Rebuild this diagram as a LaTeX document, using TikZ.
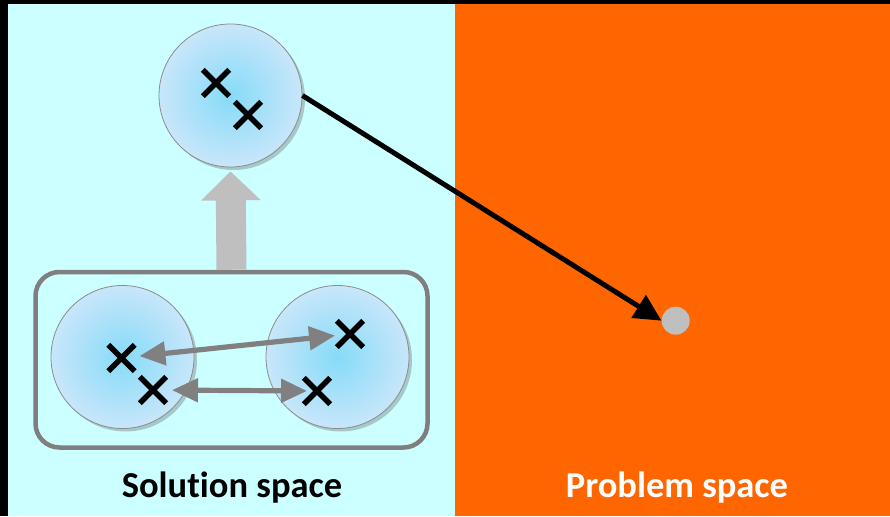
\documentclass[tikz,border=0pt]{standalone}
\usepackage{fontspec}
\setmainfont{Carlito}[Ligatures={NoCommon}]
\usetikzlibrary{arrows.meta,shapes.misc,shadows}
\definecolor{cyanbg}{HTML}{CCFFFF}
\definecolor{orangebg}{HTML}{FF6600}
\definecolor{innerblue}{HTML}{86DBF8}
\definecolor{outerblue}{HTML}{C8E6FA}
\definecolor{rimgray}{HTML}{8C8C8C}
\definecolor{arrowgray}{HTML}{808080}
\definecolor{biggray}{HTML}{BFBFBF}
\definecolor{boxgray}{HTML}{7F7F7F}
\tikzset{
  blob/.style={circle, minimum size=143pt, inner sep=0pt, draw=rimgray, line width=0.8pt,
    inner color=innerblue, outer color=outerblue,
    drop shadow={shadow xshift=3pt, shadow yshift=-3pt, opacity=0.3, fill=black!70}},
  xmark/.style={cross out, draw=black, line width=5.4pt, minimum size=21pt, inner sep=0pt},
  garrow/.style={draw=arrowgray, line width=5.2pt,
    {Triangle[length=26pt,width=23pt]}-{Triangle[length=26pt,width=23pt]}},
  barrow/.style={draw=black, line width=5pt, -{Triangle[length=27pt,width=26pt]}},
  upbig/.style={draw=biggray, line width=30pt, -{Triangle[length=29pt,width=58pt]}},
  groupbox/.style={draw=boxgray, line width=4.5pt, rounded corners=24pt,
    minimum width=392pt, minimum height=175.5pt},
  dotnode/.style={circle, fill=biggray, minimum size=28pt, inner sep=0pt},
  caption/.style={font=\bfseries\fontsize{36.5}{40}\selectfont, inner sep=0pt, anchor=base}
}
\begin{document}
\begin{tikzpicture}[x=1pt,y=-1pt]
\useasboundingbox (0,0) rectangle (890,516);
\fill[black] (0,0) rectangle (890,516);
\fill[cyanbg] (8,4) rectangle (455,516);
\fill[orangebg] (455,4) rectangle (890,516);

\node[groupbox] (box) at (231.5,359.75) {};
\node[blob] (top) at (230.5,95.5) {};
\node[blob] (left) at (122.5,357) {};
\node[blob] (right) at (337.5,357) {};

\draw[upbig, shorten >=4pt] (box.north) -- (top.south);

\node[xmark] (c1) at (216,83) {};
\node[xmark] (c2) at (248,115) {};
\node[xmark] (c3) at (121.5,358) {};
\node[xmark] (c4) at (153,390) {};
\node[xmark] (c5) at (350,334) {};
\node[xmark] (c6) at (317,391) {};

\draw[garrow, shorten <=18pt, shorten >=15pt] (c3.center) -- (c5.center);
\draw[garrow, shorten <=19pt, shorten >=10pt] (c4.center) -- (c6.center);

\node[dotnode] (dot) at (675.7,320.7) {};
\draw[barrow] (top.east) -- (dot.west);

\node[caption, text=black] (sol) at (232,497) {Solution space};
\node[caption, text=white] (prob) at (677,497) {Problem space};
\end{tikzpicture}
\end{document}
